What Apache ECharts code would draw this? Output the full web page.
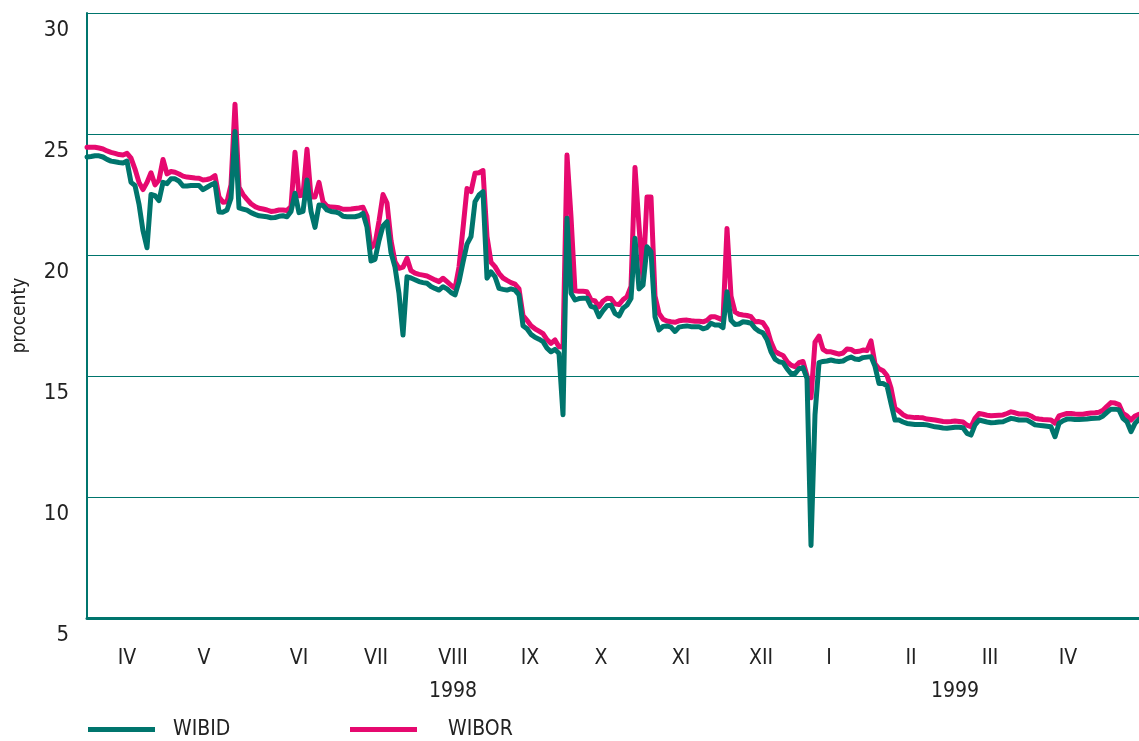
<!DOCTYPE html>
<html>
<head>
<meta charset="utf-8">
<script src="https://cdn.jsdelivr.net/npm/echarts@6/dist/echarts.min.js"></script>
<style>html,body{margin:0;padding:0;background:#fff}#c{width:1139px;height:741px}</style>
</head>
<body>
<div id="c"></div>
<script>
// trading-day index 0..263 (April 1998 - April 1999)
const wibor = [
24.45,24.45,24.45,24.42,24.38,24.3,24.24,24.2,24.15,24.13,
24.2,24.0,23.55,23.0,22.7,23.0,23.4,22.9,23.1,23.95,
23.35,23.45,23.42,23.35,23.26,23.22,23.2,23.18,23.17,23.1,
23.12,23.17,23.28,22.4,22.18,22.2,22.9,26.23,22.8,22.5,
22.3,22.12,22.0,21.93,21.9,21.86,21.8,21.82,21.86,21.86,
21.84,22.0,24.25,22.45,22.48,24.37,22.4,22.4,23.0,22.2,
22.02,21.98,21.97,21.95,21.89,21.89,21.9,21.92,21.94,21.97,
21.6,20.3,20.45,21.4,22.5,22.15,20.6,19.72,19.45,19.5,
19.86,19.35,19.25,19.2,19.17,19.13,19.05,18.97,18.9,19.04,
18.9,18.75,18.62,19.5,21.1,22.75,22.62,23.38,23.4,23.49,
20.76,19.7,19.52,19.24,19.05,18.95,18.86,18.8,18.6,17.5,
17.3,17.08,16.95,16.85,16.75,16.5,16.35,16.49,16.21,16.2,
24.13,21.58,18.52,18.5,18.5,18.48,18.15,18.1,17.86,18.1,
18.21,18.2,17.98,17.95,18.15,18.28,18.7,23.62,21.2,19.0,
22.4,22.4,18.3,17.59,17.35,17.27,17.24,17.22,17.28,17.3,
17.31,17.28,17.26,17.26,17.24,17.3,17.45,17.45,17.38,17.31,
21.1,18.3,17.65,17.55,17.52,17.5,17.45,17.24,17.25,17.2,
16.95,16.4,16.02,15.92,15.85,15.6,15.45,15.38,15.55,15.6,
15.0,14.1,16.4,16.65,16.1,16.0,16.0,15.95,15.9,15.95,
16.12,16.1,16.0,16.02,16.07,16.05,16.45,15.5,15.3,15.22,
15.02,14.5,13.66,13.55,13.4,13.32,13.3,13.28,13.28,13.27,
13.22,13.2,13.18,13.15,13.12,13.11,13.12,13.14,13.12,13.1,
12.97,12.9,13.25,13.45,13.42,13.38,13.36,13.37,13.38,13.39,
13.45,13.52,13.48,13.43,13.43,13.42,13.35,13.25,13.22,13.2,
13.19,13.18,13.05,13.35,13.4,13.45,13.45,13.43,13.42,13.42,
13.45,13.47,13.48,13.5,13.58,13.75,13.9,13.88,13.82,13.45,
13.35,13.18,13.35,13.42
];
const wibid = [
24.05,24.07,24.1,24.1,24.05,23.95,23.88,23.85,23.82,23.8,
23.88,23.0,22.87,22.1,21.0,20.3,22.5,22.45,22.25,23.0,
22.95,23.15,23.15,23.05,22.85,22.85,22.87,22.87,22.87,22.7,
22.8,22.9,22.97,21.78,21.77,21.86,22.35,25.1,21.95,21.9,
21.85,21.75,21.68,21.62,21.6,21.58,21.54,21.55,21.6,21.62,
21.58,21.8,22.55,21.75,21.8,23.1,21.8,21.14,22.07,22.05,
21.86,21.8,21.78,21.73,21.6,21.58,21.58,21.58,21.62,21.72,
21.15,19.75,19.82,20.6,21.2,21.38,20.1,19.5,18.4,16.69,
19.1,19.05,18.98,18.9,18.86,18.83,18.7,18.62,18.55,18.69,
18.6,18.45,18.35,18.9,19.7,20.45,20.76,22.2,22.48,22.62,
19.04,19.3,19.1,18.62,18.58,18.55,18.6,18.55,18.35,17.08,
16.95,16.72,16.6,16.52,16.42,16.15,16.0,16.1,15.93,13.4,
21.52,18.42,18.14,18.2,18.21,18.21,17.88,17.83,17.45,17.7,
17.9,17.93,17.59,17.48,17.8,17.93,18.2,20.69,18.6,18.75,
20.34,20.14,17.45,16.9,17.05,17.07,17.02,16.84,17.02,17.05,
17.07,17.04,17.04,17.04,16.95,17.0,17.18,17.11,17.11,17.0,
18.48,17.3,17.13,17.15,17.24,17.22,17.18,16.97,16.85,16.78,
16.5,16.0,15.7,15.59,15.55,15.3,15.1,15.1,15.3,15.35,
14.9,8.0,13.4,15.55,15.6,15.62,15.66,15.62,15.6,15.62,
15.72,15.78,15.7,15.68,15.76,15.78,15.8,15.4,14.69,14.69,
14.6,13.87,13.18,13.18,13.1,13.04,13.02,13.0,13.0,13.0,
12.98,12.94,12.9,12.88,12.85,12.84,12.86,12.88,12.88,12.86,
12.63,12.56,12.98,13.18,13.14,13.1,13.07,13.08,13.1,13.11,
13.18,13.25,13.22,13.18,13.18,13.18,13.08,12.98,12.96,12.94,
12.92,12.9,12.49,13.04,13.15,13.22,13.22,13.2,13.2,13.21,
13.22,13.24,13.25,13.26,13.35,13.5,13.63,13.63,13.6,13.25,
13.11,12.7,13.04,13.22
];
const monthLabels = ['IV','V','VI','VII','VIII','IX','X','XI','XII','I','II','III','IV'];
const monthPos = [10,29.25,53,72.25,91.5,110.75,128.5,148.5,168.5,185.5,206,225.75,245.25];
const yearLabels = ['1998','1999'];
const yearPos = [91.5,217];
const yTicks = [5,10,15,20,25,30];

const TEAL = '#00756D', PINK = '#E6096F';
const FONT = "'Liberation Sans Narrow','DejaVu Sans Condensed',sans-serif";
const chart = echarts.init(document.getElementById('c'), null, {renderer:'canvas'});
const lastIdx = wibid.length - 1;
chart.setOption({
  animation:false,
  textStyle:{fontFamily:FONT},
  grid:{left:87,right:0,top:13,bottom:123,containLabel:false},
  xAxis:[{
    type:'value',min:0,max:lastIdx,
    axisLine:{show:true,lineStyle:{color:TEAL,width:3}},
    axisTick:{show:false},
    splitLine:{show:false},
    axisLabel:{customValues:monthPos,margin:30,fontSize:21,color:'#222',fontFamily:FONT,
      formatter:v=>{const i=monthPos.indexOf(v);return i<0?'':monthLabels[i];}}
  },{
    type:'value',min:0,max:lastIdx,position:'bottom',offset:0,
    axisLine:{show:false},axisTick:{show:false},splitLine:{show:false},
    axisLabel:{customValues:yearPos,margin:63,fontSize:21,color:'#222',fontFamily:FONT,
      formatter:v=>{const i=yearPos.indexOf(v);return i<0?'':yearLabels[i];}}
  }],
  yAxis:{
    type:'value',min:yTicks[0],max:yTicks[yTicks.length-1],interval:5,
    name:'procenty',nameLocation:'middle',nameGap:57,nameRotate:90,
    nameTextStyle:{fontSize:19,color:'#222',fontFamily:FONT},
    axisLine:{show:true,lineStyle:{color:TEAL,width:2}},
    axisTick:{show:false},
    splitLine:{show:true,lineStyle:{color:TEAL,width:1}},
    axisLabel:{margin:18,fontSize:22,color:'#222',fontFamily:FONT,verticalAlign:'top',padding:[6,0,0,0]}
  },
  legend:[{
    data:['WIBID'],left:88,top:719,padding:0,icon:'rect',itemWidth:67,itemHeight:5,
    textStyle:{fontSize:21,color:'#222',fontFamily:FONT,padding:[0,0,0,13]}
  },{
    data:['WIBOR'],left:350,top:719,padding:0,icon:'rect',itemWidth:67,itemHeight:5,
    textStyle:{fontSize:21,color:'#222',fontFamily:FONT,padding:[0,0,0,26]}
  }],
  series:[{
    name:'WIBOR',type:'line',xAxisIndex:0,showSymbol:false,symbol:'none',
    data:wibor.map((v,i)=>[i,v]),
    lineStyle:{color:PINK,width:5,cap:'round',join:'round'},itemStyle:{color:PINK}
  },{
    name:'WIBID',type:'line',xAxisIndex:0,showSymbol:false,symbol:'none',
    data:wibid.map((v,i)=>[i,v]),
    lineStyle:{color:TEAL,width:5,cap:'round',join:'round'},itemStyle:{color:TEAL}
  }]
});
</script>
</body>
</html>
